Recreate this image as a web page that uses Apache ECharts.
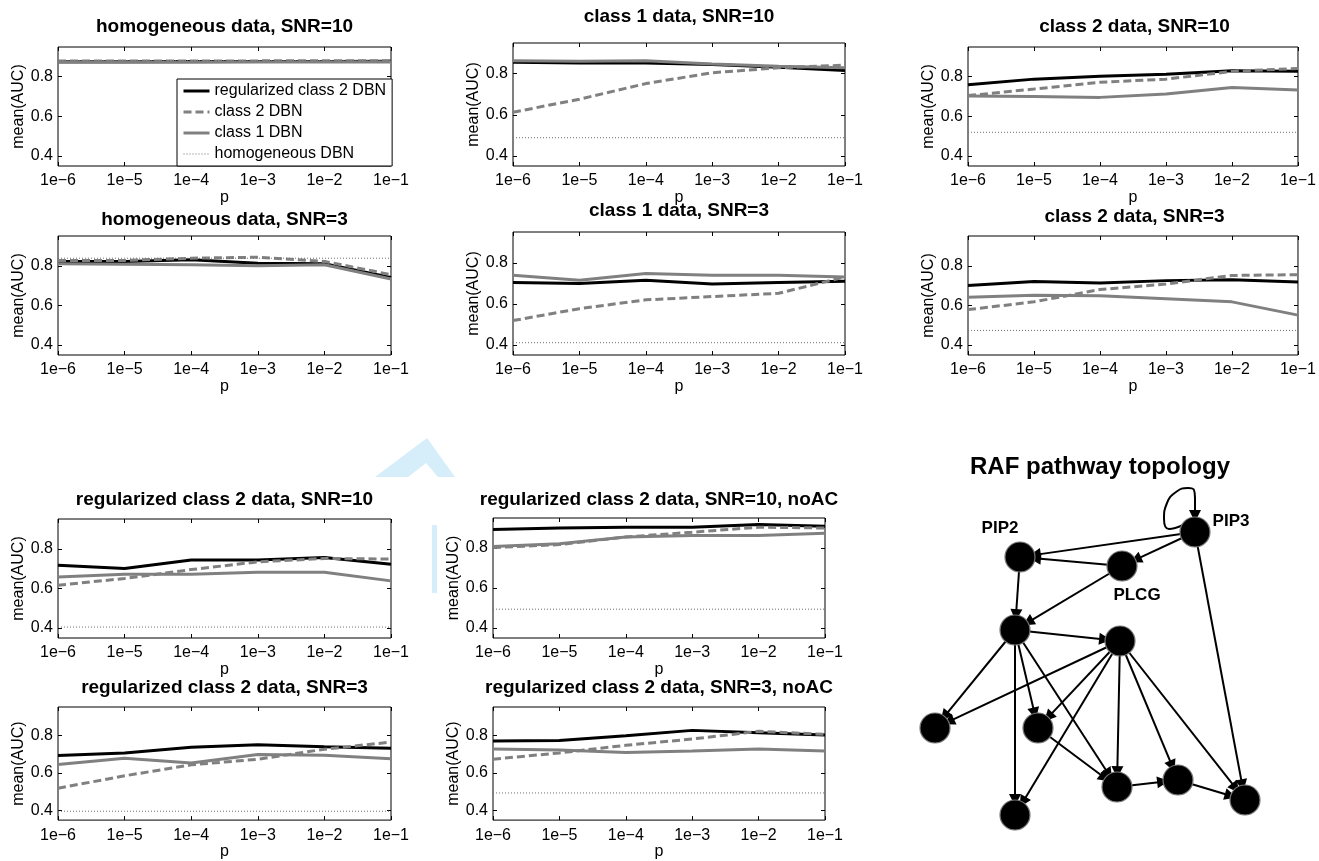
<!DOCTYPE html>
<html>
<head>
<meta charset="utf-8">
<script src="https://cdn.jsdelivr.net/npm/echarts@6/dist/echarts.min.js"></script>
<style>
html, body { margin: 0; padding: 0; background: #fff; }
#main { width: 1319px; height: 861px; }
</style>
</head>
<body>
<div id="main"></div>
<script>
var pLabels = ['1e\u22126', '1e\u22125', '1e\u22124', '1e\u22123', '1e\u22122', '1e\u22121'];
var seriesNames = ['regularized class 2 DBN', 'class 2 DBN', 'class 1 DBN', 'homogeneous DBN'];
var panelTitles = [
  'homogeneous data, SNR=10', 'class 1 data, SNR=10', 'class 2 data, SNR=10',
  'homogeneous data, SNR=3', 'class 1 data, SNR=3', 'class 2 data, SNR=3',
  'regularized class 2 data, SNR=10', 'regularized class 2 data, SNR=10, noAC',
  'regularized class 2 data, SNR=3', 'regularized class 2 data, SNR=3, noAC'
];

// each panel: [regularized class 2 DBN, class 2 DBN, class 1 DBN, homogeneous DBN]
var homog10 = [
  [0.876, 0.876, 0.877, 0.877, 0.877, 0.878],
  [0.879, 0.879, 0.880, 0.880, 0.881, 0.881],
  [0.873, 0.873, 0.873, 0.874, 0.874, 0.874],
  [0.881, 0.881, 0.881, 0.881, 0.881, 0.881]
];
var class1_10 = [
  [0.856, 0.853, 0.853, 0.845, 0.832, 0.816],
  [0.612, 0.676, 0.752, 0.805, 0.829, 0.842],
  [0.864, 0.861, 0.864, 0.848, 0.837, 0.829],
  [0.488, 0.488, 0.488, 0.488, 0.488, 0.488]
];
var class2_10 = [
  [0.760, 0.788, 0.802, 0.813, 0.830, 0.828],
  [0.705, 0.738, 0.772, 0.788, 0.827, 0.842],
  [0.703, 0.700, 0.696, 0.713, 0.746, 0.733],
  [0.520, 0.520, 0.520, 0.520, 0.520, 0.520]
];
var homog3 = [
  [0.822, 0.822, 0.830, 0.813, 0.810, 0.741],
  [0.827, 0.827, 0.838, 0.843, 0.822, 0.755],
  [0.810, 0.808, 0.805, 0.800, 0.805, 0.733],
  [0.838, 0.838, 0.838, 0.838, 0.838, 0.838]
];
var class1_3 = [
  [0.704, 0.699, 0.715, 0.696, 0.704, 0.710],
  [0.518, 0.576, 0.619, 0.635, 0.651, 0.731],
  [0.739, 0.715, 0.747, 0.739, 0.739, 0.731],
  [0.410, 0.410, 0.410, 0.410, 0.410, 0.410]
];
var class2_3 = [
  [0.701, 0.721, 0.713, 0.725, 0.730, 0.718],
  [0.579, 0.618, 0.680, 0.708, 0.751, 0.755],
  [0.641, 0.651, 0.649, 0.634, 0.618, 0.551],
  [0.474, 0.474, 0.474, 0.474, 0.474, 0.474]
];
var reg10 = [
  [0.717, 0.700, 0.743, 0.743, 0.756, 0.722],
  [0.616, 0.650, 0.695, 0.734, 0.751, 0.748],
  [0.658, 0.672, 0.672, 0.682, 0.682, 0.638],
  [0.405, 0.405, 0.405, 0.405, 0.405, 0.405]
];
var reg10noAC = [
  [0.893, 0.900, 0.904, 0.904, 0.917, 0.909],
  [0.802, 0.817, 0.855, 0.879, 0.904, 0.900],
  [0.808, 0.821, 0.855, 0.863, 0.863, 0.874],
  [0.494, 0.494, 0.494, 0.494, 0.494, 0.494]
];
var reg3 = [
  [0.693, 0.706, 0.736, 0.750, 0.739, 0.731],
  [0.519, 0.585, 0.643, 0.673, 0.726, 0.764],
  [0.645, 0.678, 0.653, 0.698, 0.694, 0.676],
  [0.397, 0.397, 0.397, 0.397, 0.397, 0.397]
];
var reg3noAC = [
  [0.769, 0.772, 0.797, 0.826, 0.813, 0.802],
  [0.673, 0.706, 0.747, 0.780, 0.821, 0.805],
  [0.727, 0.722, 0.709, 0.717, 0.727, 0.717],
  [0.494, 0.494, 0.494, 0.494, 0.494, 0.494]
];
var panelData = [homog10, class1_10, class2_10, homog3, class1_3, class2_3, reg10, reg10noAC, reg3, reg3noAC];
var yTicks = [0.4, 0.6, 0.8];

// RAF network: node positions in layout units, edges source -> target
var nodeNames = ['PIP3', 'PIP2', 'PLCG', 'PKC', 'PKA', 'JNK', 'RAF', 'P38', 'MEK', 'ERK', 'AKT'];
var nodeX = [315, 140, 242, 135, 240, 55, 158, 135, 237, 298, 365];
var nodeY = [92, 117, 126, 190, 201, 288, 288, 375, 347, 340, 360];
var edgeList = [
  ['PIP3', 'PIP2'], ['PIP3', 'PLCG'], ['PIP3', 'AKT'],
  ['PLCG', 'PIP2'], ['PLCG', 'PKC'], ['PIP2', 'PKC'],
  ['PKC', 'PKA'], ['PKC', 'JNK'], ['PKC', 'RAF'], ['PKC', 'P38'], ['PKC', 'MEK'],
  ['PKA', 'JNK'], ['PKA', 'RAF'], ['PKA', 'P38'], ['PKA', 'MEK'], ['PKA', 'ERK'], ['PKA', 'AKT'],
  ['RAF', 'MEK'], ['MEK', 'ERK'], ['ERK', 'AKT']
];
// PIP3 -> PIP3 self-loop path (same layout units) and its arrow stub
var loopX = [303, 289, 284, 287, 296, 308, 314, 315];
var loopY = [85, 89, 79, 63, 52, 48, 50, 58];
var loopArrow = [[315, 57], [315, 76]];

// layout: [left, top, right, bottom, titleY]
var boxes = [
  [58, 47, 391, 166, 27], [513, 43, 845, 166, 17], [968, 47, 1301, 166, 27],
  [58, 236, 391, 355, 220], [513, 232, 845, 355, 211], [968, 236, 1301, 355, 217],
  [58, 519, 391, 638, 500], [493, 518, 825, 638, 500],
  [58, 707, 391, 828, 688], [493, 707, 825, 828, 688]
];
var FONT = '"Liberation Sans", Arial, Helvetica, sans-serif';
var lineStyles = [
  { color: '#000000', width: 3, type: 'solid' },
  { color: '#808080', width: 3, type: [8, 4] },
  { color: '#808080', width: 3, type: 'solid' },
  { color: '#6e6e6e', width: 1, type: [1, 2] }
];

var grids = [], xAxes = [], yAxes = [], series = [], graphics = [];

boxes.forEach(function (b, i) {
  grids.push({
    left: b[0], top: b[1], width: b[2] - b[0], height: b[3] - b[1],
    show: true, borderColor: '#000', borderWidth: 1, backgroundColor: 'transparent'
  });
  xAxes.push({
    type: 'category', gridIndex: i, data: pLabels, boundaryGap: false, position: 'bottom',
    name: 'p', nameLocation: 'middle', nameGap: 21,
    nameTextStyle: { fontSize: 16, color: '#000', fontFamily: FONT },
    axisLine: { show: false },
    axisTick: { show: true, inside: true, length: 4, lineStyle: { color: '#000' } },
    axisLabel: { fontSize: 16, color: '#000', fontFamily: FONT, margin: 7, interval: 0 },
    splitLine: { show: false }
  });
  xAxes.push({
    type: 'category', gridIndex: i, data: pLabels, boundaryGap: false, position: 'top',
    axisLine: { show: false },
    axisTick: { show: true, inside: true, length: 4, lineStyle: { color: '#000' } },
    axisLabel: { show: false }, splitLine: { show: false }
  });
  yAxes.push({
    type: 'value', gridIndex: i, min: 0.35, max: 0.95, position: 'left',
    name: 'mean(AUC)', nameLocation: 'middle', nameGap: 25,
    nameTextStyle: { fontSize: 16, color: '#000', fontFamily: FONT },
    axisLine: { show: false },
    axisTick: { show: true, inside: true, length: 4, customValues: yTicks, lineStyle: { color: '#000' } },
    axisLabel: { fontSize: 16, color: '#000', fontFamily: FONT, margin: 5, customValues: yTicks },
    splitLine: { show: false }
  });
  yAxes.push({
    type: 'value', gridIndex: i, min: 0.35, max: 0.95, position: 'right',
    axisLine: { show: false },
    axisTick: { show: true, inside: true, length: 4, customValues: yTicks, lineStyle: { color: '#000' } },
    axisLabel: { show: false }, splitLine: { show: false }
  });
  panelData[i].forEach(function (vals, k) {
    series.push({
      type: 'line', name: seriesNames[k], xAxisIndex: 2 * i, yAxisIndex: 2 * i,
      data: vals, symbol: 'none', showSymbol: false,
      lineStyle: lineStyles[k], itemStyle: { color: lineStyles[k].color },
      z: 2 + k
    });
  });
  graphics.push({
    type: 'text', x: (b[0] + b[2]) / 2, y: b[4],
    style: {
      text: panelTitles[i], fontSize: 19, fontWeight: 'bold', fontFamily: FONT,
      fill: '#000', align: 'center', verticalAlign: 'middle'
    }
  });
});

// network panel on its own hidden cartesian grid
grids.push({ left: 880, top: 440, width: 439, height: 421, show: false });
xAxes.push({ type: 'value', gridIndex: 10, min: 0, max: 439, show: false });
yAxes.push({ type: 'value', gridIndex: 10, min: 0, max: 421, inverse: true, show: false });

var labelPos = {
  PIP3: { position: 'right', distance: 2, offset: [0, -11] },
  PIP2: { position: 'top', distance: 5, offset: [-20, 0] },
  PLCG: { position: 'bottom', distance: 5, offset: [15, 0] }
};
var nodes = nodeNames.map(function (n, i) {
  var lp = labelPos[n];
  return {
    name: n, value: [nodeX[i], nodeY[i]],
    label: lp ? {
      show: true, position: lp.position, distance: lp.distance, offset: lp.offset,
      fontSize: 17, fontWeight: 'bold', color: '#000', fontFamily: FONT
    } : { show: false }
  };
});
var links = edgeList.map(function (e) { return { source: e[0], target: e[1] }; });

series.push({
  type: 'line', xAxisIndex: 20, yAxisIndex: 20, smooth: 0.5, symbol: 'none', showSymbol: false,
  data: loopX.map(function (x, i) { return [x, loopY[i]]; }),
  lineStyle: { color: '#000', width: 2 }, z: 4, silent: true
});
series.push({
  type: 'lines', coordinateSystem: 'cartesian2d', xAxisIndex: 20, yAxisIndex: 20,
  symbol: ['none', 'triangle'], symbolSize: 12,
  lineStyle: { color: '#000', width: 2, opacity: 1 },
  data: [{ coords: loopArrow }], z: 4, silent: true
});
series.push({
  type: 'graph', coordinateSystem: 'cartesian2d', xAxisIndex: 20, yAxisIndex: 20,
  symbol: 'circle', symbolSize: 30,
  itemStyle: { color: '#000', borderColor: '#777', borderWidth: 1.2 },
  edgeSymbol: ['none', 'triangle'], edgeSymbolSize: [4, 12],
  lineStyle: { color: '#000', width: 2, opacity: 1, curveness: 0 },
  label: { show: false },
  emphasis: { disabled: true },
  data: nodes, links: links, z: 5
});

graphics.push({
  type: 'text', x: 1100, y: 467,
  style: {
    text: 'RAF pathway topology', fontSize: 24, fontWeight: 'bold', fontFamily: FONT,
    fill: '#000', align: 'center', verticalAlign: 'middle'
  }
});
// faint light-blue watermark fragments
graphics.push({
  type: 'polygon', z: -10,
  shape: { points: [[427, 438], [455, 477], [438, 477], [426, 463], [408, 477], [375, 477]] },
  style: { fill: '#d6eefa' }
});
graphics.push({ type: 'rect', z: -10, shape: { x: 432, y: 525, width: 5, height: 68 }, style: { fill: '#d6eefa' } });

var chart = echarts.init(document.getElementById('main'), null, { renderer: 'canvas' });
chart.setOption({
  animation: false,
  backgroundColor: '#fff',
  textStyle: { fontFamily: FONT },
  grid: grids,
  xAxis: xAxes,
  yAxis: yAxes,
  legend: {
    orient: 'vertical', left: 177, top: 79,
    data: seriesNames.map(function (n, k) {
      return { name: n, lineStyle: { width: lineStyles[k].width } };
    }),
    itemWidth: 26, itemHeight: 14, itemGap: 5,
    padding: [4, 6, 4, 5],
    borderColor: '#000', borderWidth: 1, backgroundColor: '#fff',
    itemStyle: { opacity: 0 },
    textStyle: { fontSize: 16, color: '#000', fontFamily: FONT },
    selectedMode: false
  },
  graphic: graphics,
  series: series
});
</script>
</body>
</html>
